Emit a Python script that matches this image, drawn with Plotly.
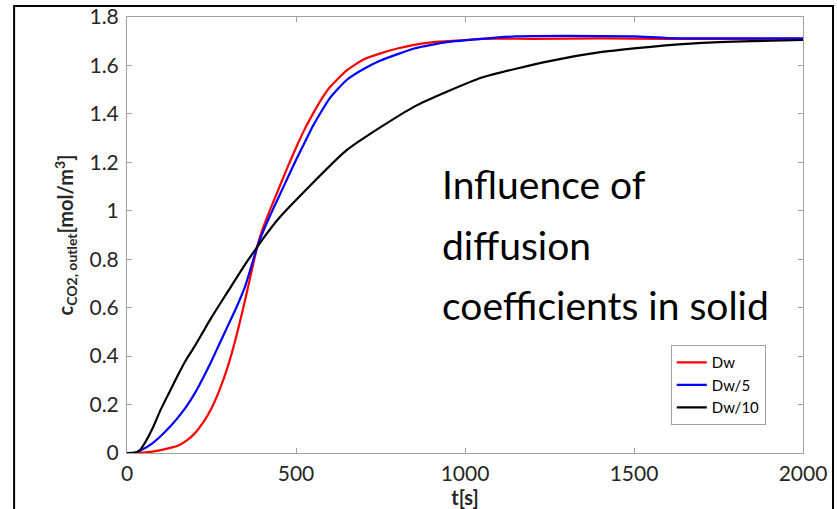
import plotly.graph_objects as go

# Outlet CO2 concentration breakthrough curves for three solid diffusion coefficients
t_dw = [0, 50, 75, 100, 125, 150, 175, 200, 225, 250, 275, 300, 325, 350, 385, 400,
        425, 450, 475, 500, 525, 550, 575, 600, 650, 700, 750, 800, 850, 900, 950,
        1000, 1050, 1200, 1400, 1600, 1800, 2000]
c_dw = [0, 0.002, 0.006, 0.012, 0.02, 0.03, 0.05, 0.08, 0.125, 0.185, 0.265, 0.365,
        0.49, 0.635, 0.85, 0.92, 1.01, 1.095, 1.18, 1.26, 1.335, 1.40, 1.46, 1.51, 1.58,
        1.625, 1.65, 1.67, 1.685, 1.695, 1.70, 1.705, 1.71, 1.71, 1.712, 1.71, 1.71, 1.71]

t_dw5 = [0, 25, 40, 75, 100, 125, 150, 175, 200, 225, 250, 275, 300, 325, 350, 385,
         400, 425, 450, 475, 500, 525, 550, 575, 600, 625, 650, 700, 750, 850, 950,
         1050, 1150, 1300, 1500, 1600, 1800, 2000]
c_dw5 = [0, 0.002, 0.01, 0.04, 0.07, 0.105, 0.145, 0.19, 0.245, 0.31, 0.38, 0.455,
         0.53, 0.605, 0.69, 0.85, 0.905, 0.985, 1.06, 1.135, 1.21, 1.28, 1.35, 1.41,
         1.465, 1.505, 1.54, 1.585, 1.62, 1.67, 1.697, 1.71, 1.72, 1.722, 1.72, 1.713,
         1.712, 1.712]

t_dw10 = [0, 20, 38, 50, 75, 100, 125, 150, 175, 200, 225, 250, 300, 350, 385, 400,
          450, 650, 850, 1050, 1250, 1400, 1550, 1700, 1850, 2000]
c_dw10 = [0, 0.0, 0.012, 0.035, 0.10, 0.18, 0.25, 0.32, 0.385, 0.44, 0.50, 0.56, 0.67,
          0.78, 0.85, 0.88, 0.97, 1.25, 1.43, 1.55, 1.618, 1.655, 1.677, 1.693, 1.70,
          1.705]

series_names = ["Dw", "Dw/5", "Dw/10"]
series_colors = ["#ff0000", "#0000ff", "#000000"]
x_ticks = [0, 500, 1000, 1500, 2000]
y_ticks = [0, 0.2, 0.4, 0.6, 0.8, 1.0, 1.2, 1.4, 1.6, 1.8]
y_tick_text = ["0", "0.2", "0.4", "0.6", "0.8", "1", "1.2", "1.4", "1.6", "1.8"]
note_lines = ["Influence of", "diffusion", "coefficients in solid"]

FONT = "Lato"
AXIS_GRAY = "#a0a0a0"
TEXT_DARK = "#262626"

fig = go.Figure()
for t, c, name, col in zip([t_dw, t_dw5, t_dw10], [c_dw, c_dw5, c_dw10],
                           series_names, series_colors):
    fig.add_trace(go.Scatter(x=t, y=c, mode="lines", name=name,
                             line=dict(color=col, width=2.2, shape="spline",
                                       smoothing=0.5)))

axis_common = dict(
    showgrid=False, zeroline=False, showline=True, linecolor=AXIS_GRAY,
    linewidth=1, mirror="ticks", ticks="inside", ticklen=5, tickcolor=AXIS_GRAY,
    tickfont=dict(family=FONT, size=21, color=TEXT_DARK), automargin=False,
)

fig.update_xaxes(range=[0, 2000], tickvals=x_ticks, ticklabelstandoff=2,
                 title=dict(text="<b>t[s]</b>", font=dict(family=FONT, size=20, color=TEXT_DARK),
                            standoff=7),
                 **axis_common)
fig.update_yaxes(range=[0, 1.8], tickvals=y_ticks, ticktext=y_tick_text, ticklabelstandoff=3,
                 title=dict(text="<b>c<sub>CO2, outlet</sub>[mol/m<sup>3</sup>]</b>",
                            font=dict(family=FONT, size=20, color=TEXT_DARK), standoff=10),
                 **axis_common)

# Three-line note inside the plot
note_y = [0.618, 0.478, 0.340]
for line, yy in zip(note_lines, note_y):
    fig.add_annotation(text=line, xref="paper", yref="paper", x=0.463, y=yy,
                       xanchor="left", yanchor="middle", showarrow=False,
                       font=dict(family=FONT, size=39, color="#000000"))

# Black frame around the whole figure
fig.add_shape(type="rect", xref="paper", yref="paper",
              x0=-0.167, x1=1.0444, y0=-0.3, y1=1.0252,
              line=dict(color="#000000", width=2), fillcolor="rgba(0,0,0,0)",
              layer="above")

fig.update_layout(
    width=837, height=509,
    margin=dict(l=127, r=34, t=17, b=56, autoexpand=False),
    paper_bgcolor="white", plot_bgcolor="white",
    font=dict(family=FONT, color=TEXT_DARK),
    legend=dict(x=0.945, y=0.064, xanchor="right", yanchor="bottom",
                bgcolor="white", bordercolor=AXIS_GRAY, borderwidth=1,
                font=dict(family=FONT, size=15, color="#000000"),
                itemwidth=30, tracegroupgap=0),
    showlegend=True,
)

fig.write_html("out.html")
